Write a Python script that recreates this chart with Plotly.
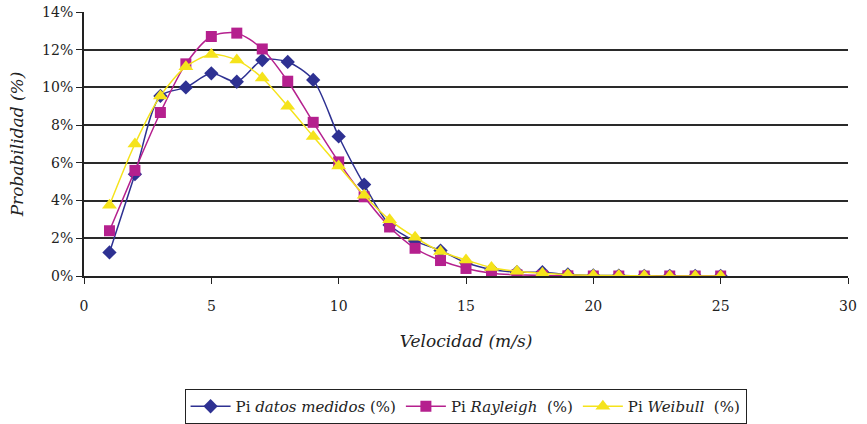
import plotly.graph_objects as go

velocidad = list(range(1, 26))
pi_medidos = [1.25, 5.4, 9.55, 10.0, 10.75, 10.3, 11.45, 11.35, 10.4, 7.4, 4.85, 2.7, 1.85, 1.35, 0.7,
              0.35, 0.2, 0.2, 0.08, 0.03, 0.02, 0.01, 0.01, 0.0, 0.0]
pi_rayleigh = [2.4, 5.6, 8.67, 11.25, 12.7, 12.88, 12.04, 10.33, 8.15, 6.05, 4.2, 2.6, 1.47, 0.82, 0.4,
               0.15, 0.06, 0.03, 0.01, 0.0, 0.0, 0.0, 0.0, 0.0, 0.0]
pi_weibull = [3.75, 7.0, 9.55, 11.1, 11.75, 11.45, 10.5, 9.0, 7.4, 5.83, 4.28, 2.98, 2.05, 1.3, 0.85,
              0.45, 0.25, 0.14, 0.07, 0.04, 0.02, 0.01, 0.0, 0.0, 0.0]
y_ticks = [0, 2, 4, 6, 8, 10, 12, 14]
y_tick_text = [f"{v}%" for v in y_ticks]
x_ticks = [0, 5, 10, 15, 20, 25, 30]

font = "DejaVu Serif"

fig = go.Figure()
fig.add_trace(go.Scatter(x=velocidad, y=pi_medidos, name="Pi <i>datos medidos</i> (%)",
                         mode="lines+markers", line=dict(color="#2E3192", width=1.5, shape="spline", smoothing=0.8),
                         marker=dict(symbol="diamond", size=11, color="#2E3192")))
fig.add_trace(go.Scatter(x=velocidad, y=pi_rayleigh, name="Pi <i>Rayleigh</i>  (%)",
                         mode="lines+markers", line=dict(color="#B5208E", width=1.5, shape="spline", smoothing=0.8),
                         marker=dict(symbol="square", size=11, color="#B5208E")))
fig.add_trace(go.Scatter(x=velocidad, y=pi_weibull, name="Pi <i>Weibull</i>  (%)",
                         mode="lines+markers", line=dict(color="#F5E31B", width=1.5, shape="spline", smoothing=0.8),
                         marker=dict(symbol="triangle-up", size=13, color="#F5E31B")))

fig.update_layout(
    width=867, height=424,
    margin=dict(l=84, r=19, t=12, b=148, autoexpand=False),
    paper_bgcolor="white", plot_bgcolor="white",
    font=dict(family=font, size=14, color="#222"),
    showlegend=True,
    legend=dict(orientation="h", x=0.537, xref="container", y=1 - 389 / 424, yref="container",
                xanchor="center", yanchor="top",
                bordercolor="#222", borderwidth=1, font=dict(size=15, family=font),
                itemwidth=40, tracegroupgap=0, valign="middle"),
    xaxis=dict(range=[0, 30], tickvals=x_ticks, showgrid=False, zeroline=False, automargin=False,
               showline=True, linecolor="#222", linewidth=2, ticks="outside", ticklen=6,
               tickcolor="#222", tickwidth=1, ticklabelstandoff=10,
               title=dict(text="<i>Velocidad (m/s)</i>", standoff=22),
               tickfont=dict(size=14)),
    yaxis=dict(range=[0, 14], tickvals=y_ticks, ticktext=y_tick_text, showgrid=True,
               gridcolor="#2a2a2a", gridwidth=2, zeroline=False, automargin=False,
               showline=True, linecolor="#222", linewidth=2, ticks="outside", ticklen=6,
               tickcolor="#222", title=dict(text="<i>Probabilidad (%)</i>", standoff=14),
               tickfont=dict(size=14)),
)

fig.write_html("out.html")
